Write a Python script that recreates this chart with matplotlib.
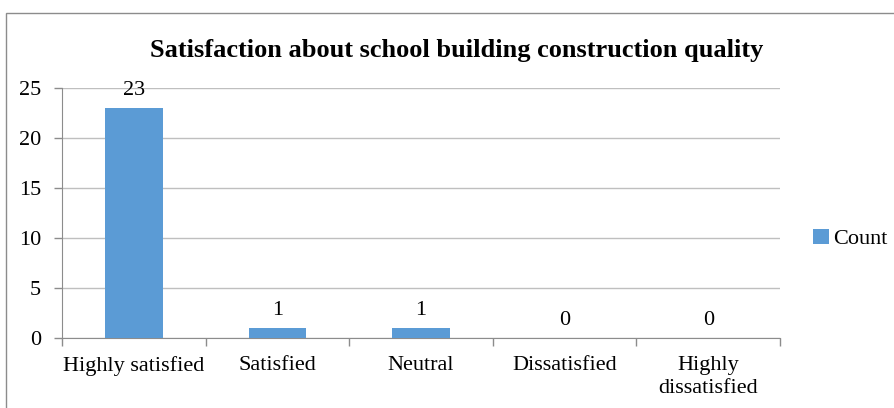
import matplotlib.pyplot as plt
from matplotlib.patches import Rectangle

# Daten aus dem Diagramm
categories = ["Highly satisfied", "Satisfied", "Neutral", "Dissatisfied", "Highly\ndissatisfied"]
counts = [23, 1, 1, 0, 0]
yticks = [0, 5, 10, 15, 20, 25]

plt.rcParams["font.family"] = ["Liberation Serif", "DejaVu Serif"]

fig = plt.figure(figsize=(8.95, 4.08), dpi=100)
ax = fig.add_axes([0.0693, 0.1716, 0.8022, 0.6127])

# Rahmen um das ganze Diagramm
fig.patches.append(Rectangle((6 / 895, -0.1), 1.2, 0.1 + (408 - 13) / 408,
                             transform=fig.transFigure, fill=False,
                             edgecolor="#8c8c8c", linewidth=1.0))

x = list(range(len(categories)))
bars = ax.bar(x, counts, width=0.4, color="#5B9BD5", label="Count", zorder=3)

for xi, v in zip(x, counts):
    ax.annotate(str(v), (xi, v), xytext=(0, 6), textcoords="offset points",
                ha="center", va="bottom", fontsize=16)

ax.set_xlim(-0.5, len(categories) - 0.5)
ax.set_ylim(0, 25)
ax.set_yticks(yticks)
ax.yaxis.grid(True, color="#bfbfbf", linewidth=1.0, zorder=0)

# Kategorien-Beschriftung in der Mitte, Striche an den Grenzen
ax.set_xticks(x)
ax.set_xticklabels(categories, fontsize=16, linespacing=1.25)
ax.tick_params(axis="x", length=0, pad=13)
ax.set_xticks([i - 0.5 for i in range(len(categories) + 1)], minor=True)
ax.tick_params(axis="x", which="minor", length=6, color="#8c8c8c", width=1)
ax.tick_params(axis="y", length=6, color="#8c8c8c", width=1, pad=9, labelsize=16)

for side in ["top", "right"]:
    ax.spines[side].set_visible(False)
ax.spines["left"].set_color("#8c8c8c")
ax.spines["bottom"].set_color("#8c8c8c")

fig.text(457 / 895, 1 - 50 / 408, "Satisfaction about school building construction quality",
         ha="center", va="center", fontsize=19, fontweight="bold")

ax.legend(loc="center left", bbox_to_anchor=(1.046, 0.396), frameon=False, borderpad=0,
          borderaxespad=0, fontsize=16, handlelength=0.7, handleheight=0.7, handletextpad=0.2)

plt.savefig("out.png", dpi=100)
